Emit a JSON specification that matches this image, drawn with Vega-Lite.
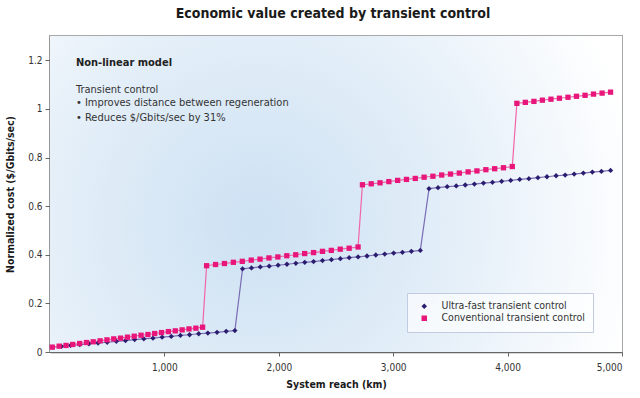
{
  "$schema": "https://vega.github.io/schema/vega-lite/v6.json",
  "width": 572,
  "height": 316,
  "autosize": {"type": "none"},
  "padding": {"left": 50, "top": 36, "right": 18, "bottom": 46},
  "background": "#ffffff",
  "title": {
    "text": "Economic value created by transient control",
    "font": "DejaVu Sans Condensed",
    "fontSize": 14,
    "fontWeight": "bold",
    "color": "#1a1a1a",
    "anchor": "middle",
    "dx": -3,
    "offset": 15
  },
  "config": {
    "view": {"stroke": "#a8a8a8", "strokeWidth": 2},
    "axis": {
      "labelFont": "DejaVu Sans Condensed",
      "labelFontSize": 10,
      "labelColor": "#333333",
      "titleFont": "DejaVu Sans Condensed",
      "titleFontSize": 10.5,
      "titleFontWeight": "bold",
      "titleColor": "#1a1a1a",
      "domainColor": "#666666",
      "domainWidth": 1.5,
      "tickColor": "#666666",
      "grid": false
    },
    "legend": {
      "strokeColor": "#c3cbe0",
      "fillColor": "rgba(255,255,255,0.65)",
      "padding": 8,
      "labelFont": "DejaVu Sans Condensed",
      "labelFontSize": 10.5,
      "labelColor": "#333333",
      "labelOffset": 12,
      "symbolSize": 30,
      "symbolOffset": 4,
      "rowPadding": 1
    }
  },
  "data": {
    "values": [
      {"series": "Ultra-fast transient control", "x": 20, "y": 0.020},
      {"series": "Ultra-fast transient control", "x": 100, "y": 0.023},
      {"series": "Ultra-fast transient control", "x": 180, "y": 0.027},
      {"series": "Ultra-fast transient control", "x": 260, "y": 0.030},
      {"series": "Ultra-fast transient control", "x": 340, "y": 0.034},
      {"series": "Ultra-fast transient control", "x": 420, "y": 0.037},
      {"series": "Ultra-fast transient control", "x": 500, "y": 0.040},
      {"series": "Ultra-fast transient control", "x": 580, "y": 0.044},
      {"series": "Ultra-fast transient control", "x": 660, "y": 0.047},
      {"series": "Ultra-fast transient control", "x": 740, "y": 0.051},
      {"series": "Ultra-fast transient control", "x": 820, "y": 0.054},
      {"series": "Ultra-fast transient control", "x": 900, "y": 0.057},
      {"series": "Ultra-fast transient control", "x": 980, "y": 0.061},
      {"series": "Ultra-fast transient control", "x": 1060, "y": 0.064},
      {"series": "Ultra-fast transient control", "x": 1140, "y": 0.068},
      {"series": "Ultra-fast transient control", "x": 1220, "y": 0.071},
      {"series": "Ultra-fast transient control", "x": 1300, "y": 0.075},
      {"series": "Ultra-fast transient control", "x": 1380, "y": 0.078},
      {"series": "Ultra-fast transient control", "x": 1460, "y": 0.081},
      {"series": "Ultra-fast transient control", "x": 1540, "y": 0.085},
      {"series": "Ultra-fast transient control", "x": 1616, "y": 0.088},
      {"series": "Ultra-fast transient control", "x": 1683, "y": 0.342},
      {"series": "Ultra-fast transient control", "x": 1761, "y": 0.346},
      {"series": "Ultra-fast transient control", "x": 1838, "y": 0.350},
      {"series": "Ultra-fast transient control", "x": 1916, "y": 0.353},
      {"series": "Ultra-fast transient control", "x": 1994, "y": 0.357},
      {"series": "Ultra-fast transient control", "x": 2071, "y": 0.361},
      {"series": "Ultra-fast transient control", "x": 2149, "y": 0.365},
      {"series": "Ultra-fast transient control", "x": 2227, "y": 0.369},
      {"series": "Ultra-fast transient control", "x": 2304, "y": 0.372},
      {"series": "Ultra-fast transient control", "x": 2382, "y": 0.376},
      {"series": "Ultra-fast transient control", "x": 2460, "y": 0.380},
      {"series": "Ultra-fast transient control", "x": 2538, "y": 0.384},
      {"series": "Ultra-fast transient control", "x": 2615, "y": 0.388},
      {"series": "Ultra-fast transient control", "x": 2693, "y": 0.391},
      {"series": "Ultra-fast transient control", "x": 2771, "y": 0.395},
      {"series": "Ultra-fast transient control", "x": 2848, "y": 0.399},
      {"series": "Ultra-fast transient control", "x": 2926, "y": 0.403},
      {"series": "Ultra-fast transient control", "x": 3004, "y": 0.407},
      {"series": "Ultra-fast transient control", "x": 3081, "y": 0.410},
      {"series": "Ultra-fast transient control", "x": 3159, "y": 0.414},
      {"series": "Ultra-fast transient control", "x": 3237, "y": 0.418},
      {"series": "Ultra-fast transient control", "x": 3313, "y": 0.672},
      {"series": "Ultra-fast transient control", "x": 3392, "y": 0.676},
      {"series": "Ultra-fast transient control", "x": 3472, "y": 0.680},
      {"series": "Ultra-fast transient control", "x": 3551, "y": 0.683},
      {"series": "Ultra-fast transient control", "x": 3630, "y": 0.687},
      {"series": "Ultra-fast transient control", "x": 3710, "y": 0.691},
      {"series": "Ultra-fast transient control", "x": 3789, "y": 0.695},
      {"series": "Ultra-fast transient control", "x": 3868, "y": 0.698},
      {"series": "Ultra-fast transient control", "x": 3948, "y": 0.702},
      {"series": "Ultra-fast transient control", "x": 4027, "y": 0.706},
      {"series": "Ultra-fast transient control", "x": 4106, "y": 0.710},
      {"series": "Ultra-fast transient control", "x": 4186, "y": 0.713},
      {"series": "Ultra-fast transient control", "x": 4265, "y": 0.717},
      {"series": "Ultra-fast transient control", "x": 4344, "y": 0.721},
      {"series": "Ultra-fast transient control", "x": 4424, "y": 0.725},
      {"series": "Ultra-fast transient control", "x": 4503, "y": 0.728},
      {"series": "Ultra-fast transient control", "x": 4582, "y": 0.732},
      {"series": "Ultra-fast transient control", "x": 4662, "y": 0.736},
      {"series": "Ultra-fast transient control", "x": 4741, "y": 0.740},
      {"series": "Ultra-fast transient control", "x": 4820, "y": 0.743},
      {"series": "Ultra-fast transient control", "x": 4900, "y": 0.747},
      {"series": "Conventional transient control", "x": 20, "y": 0.020},
      {"series": "Conventional transient control", "x": 80, "y": 0.024},
      {"series": "Conventional transient control", "x": 140, "y": 0.027},
      {"series": "Conventional transient control", "x": 199, "y": 0.031},
      {"series": "Conventional transient control", "x": 259, "y": 0.035},
      {"series": "Conventional transient control", "x": 319, "y": 0.039},
      {"series": "Conventional transient control", "x": 378, "y": 0.042},
      {"series": "Conventional transient control", "x": 438, "y": 0.046},
      {"series": "Conventional transient control", "x": 498, "y": 0.050},
      {"series": "Conventional transient control", "x": 557, "y": 0.054},
      {"series": "Conventional transient control", "x": 617, "y": 0.057},
      {"series": "Conventional transient control", "x": 677, "y": 0.061},
      {"series": "Conventional transient control", "x": 736, "y": 0.065},
      {"series": "Conventional transient control", "x": 796, "y": 0.069},
      {"series": "Conventional transient control", "x": 856, "y": 0.072},
      {"series": "Conventional transient control", "x": 915, "y": 0.076},
      {"series": "Conventional transient control", "x": 975, "y": 0.080},
      {"series": "Conventional transient control", "x": 1035, "y": 0.084},
      {"series": "Conventional transient control", "x": 1095, "y": 0.087},
      {"series": "Conventional transient control", "x": 1155, "y": 0.091},
      {"series": "Conventional transient control", "x": 1215, "y": 0.095},
      {"series": "Conventional transient control", "x": 1275, "y": 0.098},
      {"series": "Conventional transient control", "x": 1334, "y": 0.102},
      {"series": "Conventional transient control", "x": 1369, "y": 0.355},
      {"series": "Conventional transient control", "x": 1447, "y": 0.360},
      {"series": "Conventional transient control", "x": 1525, "y": 0.364},
      {"series": "Conventional transient control", "x": 1603, "y": 0.369},
      {"series": "Conventional transient control", "x": 1681, "y": 0.373},
      {"series": "Conventional transient control", "x": 1759, "y": 0.378},
      {"series": "Conventional transient control", "x": 1836, "y": 0.382},
      {"series": "Conventional transient control", "x": 1914, "y": 0.387},
      {"series": "Conventional transient control", "x": 1992, "y": 0.391},
      {"series": "Conventional transient control", "x": 2070, "y": 0.396},
      {"series": "Conventional transient control", "x": 2148, "y": 0.400},
      {"series": "Conventional transient control", "x": 2226, "y": 0.405},
      {"series": "Conventional transient control", "x": 2304, "y": 0.409},
      {"series": "Conventional transient control", "x": 2382, "y": 0.414},
      {"series": "Conventional transient control", "x": 2459, "y": 0.418},
      {"series": "Conventional transient control", "x": 2537, "y": 0.423},
      {"series": "Conventional transient control", "x": 2615, "y": 0.427},
      {"series": "Conventional transient control", "x": 2693, "y": 0.432},
      {"series": "Conventional transient control", "x": 2731, "y": 0.688},
      {"series": "Conventional transient control", "x": 2808, "y": 0.692},
      {"series": "Conventional transient control", "x": 2885, "y": 0.696},
      {"series": "Conventional transient control", "x": 2962, "y": 0.701},
      {"series": "Conventional transient control", "x": 3039, "y": 0.706},
      {"series": "Conventional transient control", "x": 3116, "y": 0.710},
      {"series": "Conventional transient control", "x": 3193, "y": 0.714},
      {"series": "Conventional transient control", "x": 3270, "y": 0.719},
      {"series": "Conventional transient control", "x": 3347, "y": 0.723},
      {"series": "Conventional transient control", "x": 3424, "y": 0.728},
      {"series": "Conventional transient control", "x": 3501, "y": 0.732},
      {"series": "Conventional transient control", "x": 3578, "y": 0.736},
      {"series": "Conventional transient control", "x": 3655, "y": 0.741},
      {"series": "Conventional transient control", "x": 3732, "y": 0.745},
      {"series": "Conventional transient control", "x": 3810, "y": 0.750},
      {"series": "Conventional transient control", "x": 3887, "y": 0.754},
      {"series": "Conventional transient control", "x": 3964, "y": 0.758},
      {"series": "Conventional transient control", "x": 4041, "y": 0.763},
      {"series": "Conventional transient control", "x": 4081, "y": 1.023},
      {"series": "Conventional transient control", "x": 4155, "y": 1.027},
      {"series": "Conventional transient control", "x": 4230, "y": 1.031},
      {"series": "Conventional transient control", "x": 4304, "y": 1.036},
      {"series": "Conventional transient control", "x": 4379, "y": 1.040},
      {"series": "Conventional transient control", "x": 4453, "y": 1.044},
      {"series": "Conventional transient control", "x": 4528, "y": 1.048},
      {"series": "Conventional transient control", "x": 4602, "y": 1.052},
      {"series": "Conventional transient control", "x": 4677, "y": 1.056},
      {"series": "Conventional transient control", "x": 4751, "y": 1.061},
      {"series": "Conventional transient control", "x": 4826, "y": 1.065},
      {"series": "Conventional transient control", "x": 4900, "y": 1.069}
    ]
  },
  "encoding": {
    "x": {
      "field": "x",
      "type": "quantitative",
      "scale": {"domain": [0, 5000], "nice": false, "zero": false},
      "axis": {
        "title": "System reach (km)",
        "values": [1000, 2000, 3000, 4000, 5000],
        "format": ",d",
        "tickSize": 4,
        "labelPadding": 6,
        "titlePadding": 7
      }
    },
    "y": {
      "field": "y",
      "type": "quantitative",
      "scale": {"domain": [0, 1.3], "nice": false},
      "axis": {
        "title": "Normalized cost ($/Gbits/sec)",
        "values": [0, 0.2, 0.4, 0.6, 0.8, 1, 1.2],
        "format": "~g",
        "tickSize": 5,
        "labelPadding": 3,
        "titlePadding": 12
      }
    }
  },
  "layer": [
    {
      "data": {"values": [{"x": 0, "x2": 5000, "y": 0, "y2": 1.3}]},
      "mark": {
        "type": "rect",
        "color": {
          "gradient": "radial",
          "x1": 0.36, "y1": 0.55, "r1": 0,
          "x2": 0.36, "y2": 0.55, "r2": 0.68,
          "stops": [
            {"offset": 0, "color": "#cde1f3"},
            {"offset": 0.5, "color": "#e3eef8"},
            {"offset": 1, "color": "#ffffff"}
          ]
        }
      },
      "encoding": {"x2": {"field": "x2"}, "y2": {"field": "y2"}}
    },
    {
      "transform": [{"filter": "datum.series === 'Ultra-fast transient control'"}],
      "mark": {"type": "line", "strokeWidth": 1.2, "color": "#7b6db5"},
      "encoding": {}
    },
    {
      "transform": [{"filter": "datum.series === 'Conventional transient control'"}],
      "mark": {"type": "line", "strokeWidth": 1.2, "color": "#f165a8"},
      "encoding": {}
    },
    {
      "mark": {"type": "point", "filled": true, "opacity": 1, "size": 28},
      "encoding": {
        "color": {
          "field": "series",
          "type": "nominal",
          "title": null,
          "scale": {
            "domain": ["Ultra-fast transient control", "Conventional transient control"],
            "range": ["#2a1c6e", "#e8157a"]
          },
          "legend": {"orient": "none", "legendX": 357, "legendY": 257}
        },
        "shape": {
          "field": "series",
          "type": "nominal",
          "title": null,
          "scale": {
            "domain": ["Ultra-fast transient control", "Conventional transient control"],
            "range": ["diamond", "square"]
          },
          "legend": {"orient": "none", "legendX": 357, "legendY": 257}
        }
      }
    },
    {
      "data": {"values": [{"x": 227, "y": 1.189, "label": "Non-linear model"}]},
      "mark": {
        "type": "text",
        "align": "left",
        "baseline": "middle",
        "font": "DejaVu Sans Condensed",
        "fontSize": 11,
        "fontWeight": "bold",
        "color": "#222222"
      },
      "encoding": {"text": {"field": "label"}}
    },
    {
      "data": {
        "values": [
          {"x": 227, "y": 1.078, "label": "Transient control"},
          {"x": 227, "y": 1.023, "label": "• Improves distance between regeneration"},
          {"x": 227, "y": 0.962, "label": "• Reduces $/Gbits/sec by 31%"}
        ]
      },
      "mark": {
        "type": "text",
        "align": "left",
        "baseline": "middle",
        "font": "DejaVu Sans Condensed",
        "fontSize": 11,
        "color": "#333333"
      },
      "encoding": {"text": {"field": "label"}}
    }
  ]
}
